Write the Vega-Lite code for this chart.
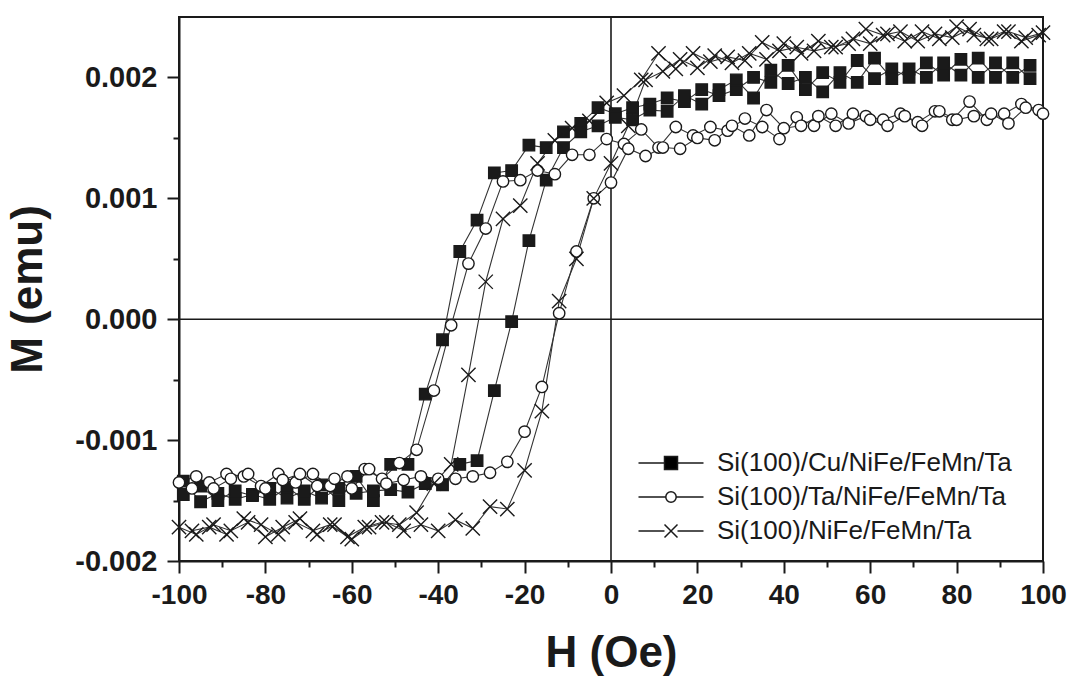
{
"$schema": "https://vega.github.io/schema/vega-lite/v6.json",
"width": 864, "height": 544,
"autosize": {"type": "none"},
"padding": {"left": 179, "top": 17, "right": 24, "bottom": 115},
"background": "white",
"config": {
  "font": "Liberation Sans",
  "view": {"stroke": "#1a1a1a", "strokeWidth": 2},
  "axis": {"grid": false, "domainColor": "#1a1a1a", "domainWidth": 2, "tickColor": "#1a1a1a", "tickWidth": 2, "labelColor": "#1a1a1a", "titleColor": "#1a1a1a", "labelFont": "Liberation Sans", "titleFont": "Liberation Sans"}
},
"data": {"values": [
{"s":"Si(100)/Cu/NiFe/FeMn/Ta","b":"d","h":97,"m":0.0021},
{"s":"Si(100)/Cu/NiFe/FeMn/Ta","b":"d","h":93,"m":0.002},
{"s":"Si(100)/Cu/NiFe/FeMn/Ta","b":"d","h":89,"m":0.00212},
{"s":"Si(100)/Cu/NiFe/FeMn/Ta","b":"d","h":85,"m":0.002},
{"s":"Si(100)/Cu/NiFe/FeMn/Ta","b":"d","h":81,"m":0.00215},
{"s":"Si(100)/Cu/NiFe/FeMn/Ta","b":"d","h":77,"m":0.00202},
{"s":"Si(100)/Cu/NiFe/FeMn/Ta","b":"d","h":73,"m":0.00212},
{"s":"Si(100)/Cu/NiFe/FeMn/Ta","b":"d","h":69,"m":0.002},
{"s":"Si(100)/Cu/NiFe/FeMn/Ta","b":"d","h":65,"m":0.00207},
{"s":"Si(100)/Cu/NiFe/FeMn/Ta","b":"d","h":61,"m":0.00199},
{"s":"Si(100)/Cu/NiFe/FeMn/Ta","b":"d","h":57,"m":0.00214},
{"s":"Si(100)/Cu/NiFe/FeMn/Ta","b":"d","h":53,"m":0.00196},
{"s":"Si(100)/Cu/NiFe/FeMn/Ta","b":"d","h":49,"m":0.00204},
{"s":"Si(100)/Cu/NiFe/FeMn/Ta","b":"d","h":45,"m":0.0019},
{"s":"Si(100)/Cu/NiFe/FeMn/Ta","b":"d","h":41,"m":0.0021},
{"s":"Si(100)/Cu/NiFe/FeMn/Ta","b":"d","h":37,"m":0.00196},
{"s":"Si(100)/Cu/NiFe/FeMn/Ta","b":"d","h":33,"m":0.002},
{"s":"Si(100)/Cu/NiFe/FeMn/Ta","b":"d","h":29,"m":0.0019},
{"s":"Si(100)/Cu/NiFe/FeMn/Ta","b":"d","h":25,"m":0.00185},
{"s":"Si(100)/Cu/NiFe/FeMn/Ta","b":"d","h":21,"m":0.0019},
{"s":"Si(100)/Cu/NiFe/FeMn/Ta","b":"d","h":17,"m":0.0018},
{"s":"Si(100)/Cu/NiFe/FeMn/Ta","b":"d","h":13,"m":0.00183},
{"s":"Si(100)/Cu/NiFe/FeMn/Ta","b":"d","h":9,"m":0.00178},
{"s":"Si(100)/Cu/NiFe/FeMn/Ta","b":"d","h":5,"m":0.00175},
{"s":"Si(100)/Cu/NiFe/FeMn/Ta","b":"d","h":1,"m":0.0017},
{"s":"Si(100)/Cu/NiFe/FeMn/Ta","b":"d","h":-3,"m":0.00175},
{"s":"Si(100)/Cu/NiFe/FeMn/Ta","b":"d","h":-7,"m":0.00162},
{"s":"Si(100)/Cu/NiFe/FeMn/Ta","b":"d","h":-11,"m":0.00155},
{"s":"Si(100)/Cu/NiFe/FeMn/Ta","b":"d","h":-15,"m":0.00142},
{"s":"Si(100)/Cu/NiFe/FeMn/Ta","b":"d","h":-19,"m":0.00144},
{"s":"Si(100)/Cu/NiFe/FeMn/Ta","b":"d","h":-23,"m":0.00123},
{"s":"Si(100)/Cu/NiFe/FeMn/Ta","b":"d","h":-27,"m":0.00121},
{"s":"Si(100)/Cu/NiFe/FeMn/Ta","b":"d","h":-31,"m":0.00082},
{"s":"Si(100)/Cu/NiFe/FeMn/Ta","b":"d","h":-35,"m":0.00056},
{"s":"Si(100)/Cu/NiFe/FeMn/Ta","b":"d","h":-39,"m":-0.00017},
{"s":"Si(100)/Cu/NiFe/FeMn/Ta","b":"d","h":-43,"m":-0.00062},
{"s":"Si(100)/Cu/NiFe/FeMn/Ta","b":"d","h":-47,"m":-0.0012},
{"s":"Si(100)/Cu/NiFe/FeMn/Ta","b":"d","h":-51,"m":-0.0012},
{"s":"Si(100)/Cu/NiFe/FeMn/Ta","b":"d","h":-55,"m":-0.0015},
{"s":"Si(100)/Cu/NiFe/FeMn/Ta","b":"d","h":-59,"m":-0.0013},
{"s":"Si(100)/Cu/NiFe/FeMn/Ta","b":"d","h":-63,"m":-0.0015},
{"s":"Si(100)/Cu/NiFe/FeMn/Ta","b":"d","h":-67,"m":-0.00137},
{"s":"Si(100)/Cu/NiFe/FeMn/Ta","b":"d","h":-71,"m":-0.00149},
{"s":"Si(100)/Cu/NiFe/FeMn/Ta","b":"d","h":-75,"m":-0.00139},
{"s":"Si(100)/Cu/NiFe/FeMn/Ta","b":"d","h":-79,"m":-0.00149},
{"s":"Si(100)/Cu/NiFe/FeMn/Ta","b":"d","h":-83,"m":-0.00145},
{"s":"Si(100)/Cu/NiFe/FeMn/Ta","b":"d","h":-87,"m":-0.00149},
{"s":"Si(100)/Cu/NiFe/FeMn/Ta","b":"d","h":-91,"m":-0.00144},
{"s":"Si(100)/Cu/NiFe/FeMn/Ta","b":"d","h":-95,"m":-0.00151},
{"s":"Si(100)/Cu/NiFe/FeMn/Ta","b":"d","h":-99,"m":-0.00134},
{"s":"Si(100)/Cu/NiFe/FeMn/Ta","b":"a","h":-99,"m":-0.00145},
{"s":"Si(100)/Cu/NiFe/FeMn/Ta","b":"a","h":-95,"m":-0.00138},
{"s":"Si(100)/Cu/NiFe/FeMn/Ta","b":"a","h":-91,"m":-0.0015},
{"s":"Si(100)/Cu/NiFe/FeMn/Ta","b":"a","h":-87,"m":-0.00142},
{"s":"Si(100)/Cu/NiFe/FeMn/Ta","b":"a","h":-83,"m":-0.00146},
{"s":"Si(100)/Cu/NiFe/FeMn/Ta","b":"a","h":-79,"m":-0.0014},
{"s":"Si(100)/Cu/NiFe/FeMn/Ta","b":"a","h":-75,"m":-0.00148},
{"s":"Si(100)/Cu/NiFe/FeMn/Ta","b":"a","h":-71,"m":-0.00142},
{"s":"Si(100)/Cu/NiFe/FeMn/Ta","b":"a","h":-67,"m":-0.00148},
{"s":"Si(100)/Cu/NiFe/FeMn/Ta","b":"a","h":-63,"m":-0.0014},
{"s":"Si(100)/Cu/NiFe/FeMn/Ta","b":"a","h":-59,"m":-0.00144},
{"s":"Si(100)/Cu/NiFe/FeMn/Ta","b":"a","h":-55,"m":-0.00142},
{"s":"Si(100)/Cu/NiFe/FeMn/Ta","b":"a","h":-51,"m":-0.00141},
{"s":"Si(100)/Cu/NiFe/FeMn/Ta","b":"a","h":-47,"m":-0.00143},
{"s":"Si(100)/Cu/NiFe/FeMn/Ta","b":"a","h":-43,"m":-0.00136},
{"s":"Si(100)/Cu/NiFe/FeMn/Ta","b":"a","h":-39,"m":-0.00137},
{"s":"Si(100)/Cu/NiFe/FeMn/Ta","b":"a","h":-35,"m":-0.0012},
{"s":"Si(100)/Cu/NiFe/FeMn/Ta","b":"a","h":-31,"m":-0.00117},
{"s":"Si(100)/Cu/NiFe/FeMn/Ta","b":"a","h":-27,"m":-0.00059},
{"s":"Si(100)/Cu/NiFe/FeMn/Ta","b":"a","h":-23,"m":-0.00002},
{"s":"Si(100)/Cu/NiFe/FeMn/Ta","b":"a","h":-19,"m":0.00065},
{"s":"Si(100)/Cu/NiFe/FeMn/Ta","b":"a","h":-15,"m":0.00115},
{"s":"Si(100)/Cu/NiFe/FeMn/Ta","b":"a","h":-11,"m":0.00142},
{"s":"Si(100)/Cu/NiFe/FeMn/Ta","b":"a","h":-7,"m":0.00155},
{"s":"Si(100)/Cu/NiFe/FeMn/Ta","b":"a","h":-3,"m":0.0016},
{"s":"Si(100)/Cu/NiFe/FeMn/Ta","b":"a","h":1,"m":0.00167},
{"s":"Si(100)/Cu/NiFe/FeMn/Ta","b":"a","h":5,"m":0.00165},
{"s":"Si(100)/Cu/NiFe/FeMn/Ta","b":"a","h":9,"m":0.00173},
{"s":"Si(100)/Cu/NiFe/FeMn/Ta","b":"a","h":13,"m":0.00172},
{"s":"Si(100)/Cu/NiFe/FeMn/Ta","b":"a","h":17,"m":0.00185},
{"s":"Si(100)/Cu/NiFe/FeMn/Ta","b":"a","h":21,"m":0.00178},
{"s":"Si(100)/Cu/NiFe/FeMn/Ta","b":"a","h":25,"m":0.0019},
{"s":"Si(100)/Cu/NiFe/FeMn/Ta","b":"a","h":29,"m":0.00198},
{"s":"Si(100)/Cu/NiFe/FeMn/Ta","b":"a","h":33,"m":0.00183},
{"s":"Si(100)/Cu/NiFe/FeMn/Ta","b":"a","h":37,"m":0.00206},
{"s":"Si(100)/Cu/NiFe/FeMn/Ta","b":"a","h":41,"m":0.00195},
{"s":"Si(100)/Cu/NiFe/FeMn/Ta","b":"a","h":45,"m":0.002},
{"s":"Si(100)/Cu/NiFe/FeMn/Ta","b":"a","h":49,"m":0.00188},
{"s":"Si(100)/Cu/NiFe/FeMn/Ta","b":"a","h":53,"m":0.00204},
{"s":"Si(100)/Cu/NiFe/FeMn/Ta","b":"a","h":57,"m":0.00196},
{"s":"Si(100)/Cu/NiFe/FeMn/Ta","b":"a","h":61,"m":0.00216},
{"s":"Si(100)/Cu/NiFe/FeMn/Ta","b":"a","h":65,"m":0.00199},
{"s":"Si(100)/Cu/NiFe/FeMn/Ta","b":"a","h":69,"m":0.00207},
{"s":"Si(100)/Cu/NiFe/FeMn/Ta","b":"a","h":73,"m":0.002},
{"s":"Si(100)/Cu/NiFe/FeMn/Ta","b":"a","h":77,"m":0.00212},
{"s":"Si(100)/Cu/NiFe/FeMn/Ta","b":"a","h":81,"m":0.00202},
{"s":"Si(100)/Cu/NiFe/FeMn/Ta","b":"a","h":85,"m":0.00216},
{"s":"Si(100)/Cu/NiFe/FeMn/Ta","b":"a","h":89,"m":0.002},
{"s":"Si(100)/Cu/NiFe/FeMn/Ta","b":"a","h":93,"m":0.00212},
{"s":"Si(100)/Cu/NiFe/FeMn/Ta","b":"a","h":97,"m":0.00199},
{"s":"Si(100)/Ta/NiFe/FeMn/Ta","b":"d","h":99,"m":0.00173},
{"s":"Si(100)/Ta/NiFe/FeMn/Ta","b":"d","h":95,"m":0.00178},
{"s":"Si(100)/Ta/NiFe/FeMn/Ta","b":"d","h":91,"m":0.0017},
{"s":"Si(100)/Ta/NiFe/FeMn/Ta","b":"d","h":87,"m":0.00165},
{"s":"Si(100)/Ta/NiFe/FeMn/Ta","b":"d","h":83,"m":0.0018},
{"s":"Si(100)/Ta/NiFe/FeMn/Ta","b":"d","h":79,"m":0.00165},
{"s":"Si(100)/Ta/NiFe/FeMn/Ta","b":"d","h":75,"m":0.00172},
{"s":"Si(100)/Ta/NiFe/FeMn/Ta","b":"d","h":71,"m":0.00163},
{"s":"Si(100)/Ta/NiFe/FeMn/Ta","b":"d","h":67,"m":0.0017},
{"s":"Si(100)/Ta/NiFe/FeMn/Ta","b":"d","h":63,"m":0.00165},
{"s":"Si(100)/Ta/NiFe/FeMn/Ta","b":"d","h":59,"m":0.00168},
{"s":"Si(100)/Ta/NiFe/FeMn/Ta","b":"d","h":55,"m":0.00162},
{"s":"Si(100)/Ta/NiFe/FeMn/Ta","b":"d","h":51,"m":0.0017},
{"s":"Si(100)/Ta/NiFe/FeMn/Ta","b":"d","h":47,"m":0.0016},
{"s":"Si(100)/Ta/NiFe/FeMn/Ta","b":"d","h":43,"m":0.00167},
{"s":"Si(100)/Ta/NiFe/FeMn/Ta","b":"d","h":39,"m":0.00149},
{"s":"Si(100)/Ta/NiFe/FeMn/Ta","b":"d","h":35,"m":0.00159},
{"s":"Si(100)/Ta/NiFe/FeMn/Ta","b":"d","h":31,"m":0.00166},
{"s":"Si(100)/Ta/NiFe/FeMn/Ta","b":"d","h":27,"m":0.00156},
{"s":"Si(100)/Ta/NiFe/FeMn/Ta","b":"d","h":23,"m":0.00159},
{"s":"Si(100)/Ta/NiFe/FeMn/Ta","b":"d","h":19,"m":0.00152},
{"s":"Si(100)/Ta/NiFe/FeMn/Ta","b":"d","h":15,"m":0.00159},
{"s":"Si(100)/Ta/NiFe/FeMn/Ta","b":"d","h":11,"m":0.00142},
{"s":"Si(100)/Ta/NiFe/FeMn/Ta","b":"d","h":7,"m":0.00157},
{"s":"Si(100)/Ta/NiFe/FeMn/Ta","b":"d","h":3,"m":0.00145},
{"s":"Si(100)/Ta/NiFe/FeMn/Ta","b":"d","h":-1,"m":0.00149},
{"s":"Si(100)/Ta/NiFe/FeMn/Ta","b":"d","h":-5,"m":0.00136},
{"s":"Si(100)/Ta/NiFe/FeMn/Ta","b":"d","h":-9,"m":0.00136},
{"s":"Si(100)/Ta/NiFe/FeMn/Ta","b":"d","h":-13,"m":0.0012},
{"s":"Si(100)/Ta/NiFe/FeMn/Ta","b":"d","h":-17,"m":0.00123},
{"s":"Si(100)/Ta/NiFe/FeMn/Ta","b":"d","h":-21,"m":0.00115},
{"s":"Si(100)/Ta/NiFe/FeMn/Ta","b":"d","h":-25,"m":0.00114},
{"s":"Si(100)/Ta/NiFe/FeMn/Ta","b":"d","h":-29,"m":0.00075},
{"s":"Si(100)/Ta/NiFe/FeMn/Ta","b":"d","h":-33,"m":0.00046},
{"s":"Si(100)/Ta/NiFe/FeMn/Ta","b":"d","h":-37,"m":-0.00005},
{"s":"Si(100)/Ta/NiFe/FeMn/Ta","b":"d","h":-41,"m":-0.00059},
{"s":"Si(100)/Ta/NiFe/FeMn/Ta","b":"d","h":-45,"m":-0.00108},
{"s":"Si(100)/Ta/NiFe/FeMn/Ta","b":"d","h":-49,"m":-0.00119},
{"s":"Si(100)/Ta/NiFe/FeMn/Ta","b":"d","h":-53,"m":-0.00132},
{"s":"Si(100)/Ta/NiFe/FeMn/Ta","b":"d","h":-57,"m":-0.00124},
{"s":"Si(100)/Ta/NiFe/FeMn/Ta","b":"d","h":-61,"m":-0.0013},
{"s":"Si(100)/Ta/NiFe/FeMn/Ta","b":"d","h":-65,"m":-0.00138},
{"s":"Si(100)/Ta/NiFe/FeMn/Ta","b":"d","h":-69,"m":-0.00128},
{"s":"Si(100)/Ta/NiFe/FeMn/Ta","b":"d","h":-73,"m":-0.00135},
{"s":"Si(100)/Ta/NiFe/FeMn/Ta","b":"d","h":-77,"m":-0.00128},
{"s":"Si(100)/Ta/NiFe/FeMn/Ta","b":"d","h":-81,"m":-0.00138},
{"s":"Si(100)/Ta/NiFe/FeMn/Ta","b":"d","h":-85,"m":-0.0013},
{"s":"Si(100)/Ta/NiFe/FeMn/Ta","b":"d","h":-89,"m":-0.00128},
{"s":"Si(100)/Ta/NiFe/FeMn/Ta","b":"d","h":-93,"m":-0.00135},
{"s":"Si(100)/Ta/NiFe/FeMn/Ta","b":"d","h":-97,"m":-0.0014},
{"s":"Si(100)/Ta/NiFe/FeMn/Ta","b":"a","h":-100,"m":-0.00135},
{"s":"Si(100)/Ta/NiFe/FeMn/Ta","b":"a","h":-96,"m":-0.0013},
{"s":"Si(100)/Ta/NiFe/FeMn/Ta","b":"a","h":-92,"m":-0.0014},
{"s":"Si(100)/Ta/NiFe/FeMn/Ta","b":"a","h":-88,"m":-0.00132},
{"s":"Si(100)/Ta/NiFe/FeMn/Ta","b":"a","h":-84,"m":-0.00128},
{"s":"Si(100)/Ta/NiFe/FeMn/Ta","b":"a","h":-80,"m":-0.0014},
{"s":"Si(100)/Ta/NiFe/FeMn/Ta","b":"a","h":-76,"m":-0.00133},
{"s":"Si(100)/Ta/NiFe/FeMn/Ta","b":"a","h":-72,"m":-0.00128},
{"s":"Si(100)/Ta/NiFe/FeMn/Ta","b":"a","h":-68,"m":-0.00138},
{"s":"Si(100)/Ta/NiFe/FeMn/Ta","b":"a","h":-64,"m":-0.00132},
{"s":"Si(100)/Ta/NiFe/FeMn/Ta","b":"a","h":-60,"m":-0.0014},
{"s":"Si(100)/Ta/NiFe/FeMn/Ta","b":"a","h":-56,"m":-0.00124},
{"s":"Si(100)/Ta/NiFe/FeMn/Ta","b":"a","h":-52,"m":-0.00136},
{"s":"Si(100)/Ta/NiFe/FeMn/Ta","b":"a","h":-48,"m":-0.00133},
{"s":"Si(100)/Ta/NiFe/FeMn/Ta","b":"a","h":-44,"m":-0.0013},
{"s":"Si(100)/Ta/NiFe/FeMn/Ta","b":"a","h":-40,"m":-0.00132},
{"s":"Si(100)/Ta/NiFe/FeMn/Ta","b":"a","h":-36,"m":-0.00132},
{"s":"Si(100)/Ta/NiFe/FeMn/Ta","b":"a","h":-32,"m":-0.0013},
{"s":"Si(100)/Ta/NiFe/FeMn/Ta","b":"a","h":-28,"m":-0.00127},
{"s":"Si(100)/Ta/NiFe/FeMn/Ta","b":"a","h":-24,"m":-0.00118},
{"s":"Si(100)/Ta/NiFe/FeMn/Ta","b":"a","h":-20,"m":-0.00093},
{"s":"Si(100)/Ta/NiFe/FeMn/Ta","b":"a","h":-16,"m":-0.00056},
{"s":"Si(100)/Ta/NiFe/FeMn/Ta","b":"a","h":-12,"m":0.00005},
{"s":"Si(100)/Ta/NiFe/FeMn/Ta","b":"a","h":-8,"m":0.00056},
{"s":"Si(100)/Ta/NiFe/FeMn/Ta","b":"a","h":-4,"m":0.001},
{"s":"Si(100)/Ta/NiFe/FeMn/Ta","b":"a","h":0,"m":0.00113},
{"s":"Si(100)/Ta/NiFe/FeMn/Ta","b":"a","h":4,"m":0.00141},
{"s":"Si(100)/Ta/NiFe/FeMn/Ta","b":"a","h":8,"m":0.00135},
{"s":"Si(100)/Ta/NiFe/FeMn/Ta","b":"a","h":12,"m":0.00142},
{"s":"Si(100)/Ta/NiFe/FeMn/Ta","b":"a","h":16,"m":0.00141},
{"s":"Si(100)/Ta/NiFe/FeMn/Ta","b":"a","h":20,"m":0.0015},
{"s":"Si(100)/Ta/NiFe/FeMn/Ta","b":"a","h":24,"m":0.00148},
{"s":"Si(100)/Ta/NiFe/FeMn/Ta","b":"a","h":28,"m":0.0016},
{"s":"Si(100)/Ta/NiFe/FeMn/Ta","b":"a","h":32,"m":0.00152},
{"s":"Si(100)/Ta/NiFe/FeMn/Ta","b":"a","h":36,"m":0.00173},
{"s":"Si(100)/Ta/NiFe/FeMn/Ta","b":"a","h":40,"m":0.00158},
{"s":"Si(100)/Ta/NiFe/FeMn/Ta","b":"a","h":44,"m":0.0016},
{"s":"Si(100)/Ta/NiFe/FeMn/Ta","b":"a","h":48,"m":0.00168},
{"s":"Si(100)/Ta/NiFe/FeMn/Ta","b":"a","h":52,"m":0.0016},
{"s":"Si(100)/Ta/NiFe/FeMn/Ta","b":"a","h":56,"m":0.0017},
{"s":"Si(100)/Ta/NiFe/FeMn/Ta","b":"a","h":60,"m":0.00165},
{"s":"Si(100)/Ta/NiFe/FeMn/Ta","b":"a","h":64,"m":0.0016},
{"s":"Si(100)/Ta/NiFe/FeMn/Ta","b":"a","h":68,"m":0.00168},
{"s":"Si(100)/Ta/NiFe/FeMn/Ta","b":"a","h":72,"m":0.0016},
{"s":"Si(100)/Ta/NiFe/FeMn/Ta","b":"a","h":76,"m":0.00172},
{"s":"Si(100)/Ta/NiFe/FeMn/Ta","b":"a","h":80,"m":0.00165},
{"s":"Si(100)/Ta/NiFe/FeMn/Ta","b":"a","h":84,"m":0.00168},
{"s":"Si(100)/Ta/NiFe/FeMn/Ta","b":"a","h":88,"m":0.0017},
{"s":"Si(100)/Ta/NiFe/FeMn/Ta","b":"a","h":92,"m":0.00162},
{"s":"Si(100)/Ta/NiFe/FeMn/Ta","b":"a","h":96,"m":0.00175},
{"s":"Si(100)/Ta/NiFe/FeMn/Ta","b":"a","h":100,"m":0.0017},
{"s":"Si(100)/NiFe/FeMn/Ta","b":"d","h":99,"m":0.00235},
{"s":"Si(100)/NiFe/FeMn/Ta","b":"d","h":95,"m":0.0023},
{"s":"Si(100)/NiFe/FeMn/Ta","b":"d","h":91,"m":0.00238},
{"s":"Si(100)/NiFe/FeMn/Ta","b":"d","h":87,"m":0.00232},
{"s":"Si(100)/NiFe/FeMn/Ta","b":"d","h":83,"m":0.0024},
{"s":"Si(100)/NiFe/FeMn/Ta","b":"d","h":79,"m":0.00233},
{"s":"Si(100)/NiFe/FeMn/Ta","b":"d","h":75,"m":0.00236},
{"s":"Si(100)/NiFe/FeMn/Ta","b":"d","h":71,"m":0.0023},
{"s":"Si(100)/NiFe/FeMn/Ta","b":"d","h":67,"m":0.00238},
{"s":"Si(100)/NiFe/FeMn/Ta","b":"d","h":63,"m":0.00235},
{"s":"Si(100)/NiFe/FeMn/Ta","b":"d","h":59,"m":0.0024},
{"s":"Si(100)/NiFe/FeMn/Ta","b":"d","h":55,"m":0.00228},
{"s":"Si(100)/NiFe/FeMn/Ta","b":"d","h":51,"m":0.00225},
{"s":"Si(100)/NiFe/FeMn/Ta","b":"d","h":47,"m":0.00222},
{"s":"Si(100)/NiFe/FeMn/Ta","b":"d","h":43,"m":0.00225},
{"s":"Si(100)/NiFe/FeMn/Ta","b":"d","h":39,"m":0.00222},
{"s":"Si(100)/NiFe/FeMn/Ta","b":"d","h":35,"m":0.00229},
{"s":"Si(100)/NiFe/FeMn/Ta","b":"d","h":31,"m":0.00214},
{"s":"Si(100)/NiFe/FeMn/Ta","b":"d","h":27,"m":0.00217},
{"s":"Si(100)/NiFe/FeMn/Ta","b":"d","h":23,"m":0.00213},
{"s":"Si(100)/NiFe/FeMn/Ta","b":"d","h":19,"m":0.0022},
{"s":"Si(100)/NiFe/FeMn/Ta","b":"d","h":15,"m":0.00207},
{"s":"Si(100)/NiFe/FeMn/Ta","b":"d","h":11,"m":0.0022},
{"s":"Si(100)/NiFe/FeMn/Ta","b":"d","h":7,"m":0.00198},
{"s":"Si(100)/NiFe/FeMn/Ta","b":"d","h":3,"m":0.00185},
{"s":"Si(100)/NiFe/FeMn/Ta","b":"d","h":-1,"m":0.00179},
{"s":"Si(100)/NiFe/FeMn/Ta","b":"d","h":-5,"m":0.00164},
{"s":"Si(100)/NiFe/FeMn/Ta","b":"d","h":-9,"m":0.00158},
{"s":"Si(100)/NiFe/FeMn/Ta","b":"d","h":-13,"m":0.00148},
{"s":"Si(100)/NiFe/FeMn/Ta","b":"d","h":-17,"m":0.00129},
{"s":"Si(100)/NiFe/FeMn/Ta","b":"d","h":-21,"m":0.00094},
{"s":"Si(100)/NiFe/FeMn/Ta","b":"d","h":-25,"m":0.00083},
{"s":"Si(100)/NiFe/FeMn/Ta","b":"d","h":-29,"m":0.00031},
{"s":"Si(100)/NiFe/FeMn/Ta","b":"d","h":-33,"m":-0.00046},
{"s":"Si(100)/NiFe/FeMn/Ta","b":"d","h":-37,"m":-0.0012},
{"s":"Si(100)/NiFe/FeMn/Ta","b":"d","h":-41,"m":-0.00136},
{"s":"Si(100)/NiFe/FeMn/Ta","b":"d","h":-45,"m":-0.0016},
{"s":"Si(100)/NiFe/FeMn/Ta","b":"d","h":-49,"m":-0.0017},
{"s":"Si(100)/NiFe/FeMn/Ta","b":"d","h":-53,"m":-0.00168},
{"s":"Si(100)/NiFe/FeMn/Ta","b":"d","h":-57,"m":-0.00172},
{"s":"Si(100)/NiFe/FeMn/Ta","b":"d","h":-61,"m":-0.0018},
{"s":"Si(100)/NiFe/FeMn/Ta","b":"d","h":-65,"m":-0.0017},
{"s":"Si(100)/NiFe/FeMn/Ta","b":"d","h":-69,"m":-0.00175},
{"s":"Si(100)/NiFe/FeMn/Ta","b":"d","h":-73,"m":-0.00168},
{"s":"Si(100)/NiFe/FeMn/Ta","b":"d","h":-77,"m":-0.00178},
{"s":"Si(100)/NiFe/FeMn/Ta","b":"d","h":-81,"m":-0.0017},
{"s":"Si(100)/NiFe/FeMn/Ta","b":"d","h":-85,"m":-0.00165},
{"s":"Si(100)/NiFe/FeMn/Ta","b":"d","h":-89,"m":-0.00178},
{"s":"Si(100)/NiFe/FeMn/Ta","b":"d","h":-93,"m":-0.00172},
{"s":"Si(100)/NiFe/FeMn/Ta","b":"d","h":-97,"m":-0.00175},
{"s":"Si(100)/NiFe/FeMn/Ta","b":"a","h":-100,"m":-0.00172},
{"s":"Si(100)/NiFe/FeMn/Ta","b":"a","h":-96,"m":-0.00178},
{"s":"Si(100)/NiFe/FeMn/Ta","b":"a","h":-92,"m":-0.0017},
{"s":"Si(100)/NiFe/FeMn/Ta","b":"a","h":-88,"m":-0.00175},
{"s":"Si(100)/NiFe/FeMn/Ta","b":"a","h":-84,"m":-0.00168},
{"s":"Si(100)/NiFe/FeMn/Ta","b":"a","h":-80,"m":-0.0018},
{"s":"Si(100)/NiFe/FeMn/Ta","b":"a","h":-76,"m":-0.00172},
{"s":"Si(100)/NiFe/FeMn/Ta","b":"a","h":-72,"m":-0.00165},
{"s":"Si(100)/NiFe/FeMn/Ta","b":"a","h":-68,"m":-0.00178},
{"s":"Si(100)/NiFe/FeMn/Ta","b":"a","h":-64,"m":-0.0017},
{"s":"Si(100)/NiFe/FeMn/Ta","b":"a","h":-60,"m":-0.00182},
{"s":"Si(100)/NiFe/FeMn/Ta","b":"a","h":-56,"m":-0.00172},
{"s":"Si(100)/NiFe/FeMn/Ta","b":"a","h":-52,"m":-0.00168},
{"s":"Si(100)/NiFe/FeMn/Ta","b":"a","h":-48,"m":-0.00175},
{"s":"Si(100)/NiFe/FeMn/Ta","b":"a","h":-44,"m":-0.0017},
{"s":"Si(100)/NiFe/FeMn/Ta","b":"a","h":-40,"m":-0.00175},
{"s":"Si(100)/NiFe/FeMn/Ta","b":"a","h":-36,"m":-0.00166},
{"s":"Si(100)/NiFe/FeMn/Ta","b":"a","h":-32,"m":-0.00173},
{"s":"Si(100)/NiFe/FeMn/Ta","b":"a","h":-28,"m":-0.00155},
{"s":"Si(100)/NiFe/FeMn/Ta","b":"a","h":-24,"m":-0.00157},
{"s":"Si(100)/NiFe/FeMn/Ta","b":"a","h":-20,"m":-0.00125},
{"s":"Si(100)/NiFe/FeMn/Ta","b":"a","h":-16,"m":-0.00076},
{"s":"Si(100)/NiFe/FeMn/Ta","b":"a","h":-12,"m":0.00015},
{"s":"Si(100)/NiFe/FeMn/Ta","b":"a","h":-8,"m":0.0005},
{"s":"Si(100)/NiFe/FeMn/Ta","b":"a","h":-4,"m":0.001},
{"s":"Si(100)/NiFe/FeMn/Ta","b":"a","h":0,"m":0.00129},
{"s":"Si(100)/NiFe/FeMn/Ta","b":"a","h":4,"m":0.0016},
{"s":"Si(100)/NiFe/FeMn/Ta","b":"a","h":8,"m":0.00198},
{"s":"Si(100)/NiFe/FeMn/Ta","b":"a","h":12,"m":0.00205},
{"s":"Si(100)/NiFe/FeMn/Ta","b":"a","h":16,"m":0.00215},
{"s":"Si(100)/NiFe/FeMn/Ta","b":"a","h":20,"m":0.00208},
{"s":"Si(100)/NiFe/FeMn/Ta","b":"a","h":24,"m":0.00218},
{"s":"Si(100)/NiFe/FeMn/Ta","b":"a","h":28,"m":0.00212},
{"s":"Si(100)/NiFe/FeMn/Ta","b":"a","h":32,"m":0.0022},
{"s":"Si(100)/NiFe/FeMn/Ta","b":"a","h":36,"m":0.00215},
{"s":"Si(100)/NiFe/FeMn/Ta","b":"a","h":40,"m":0.00228},
{"s":"Si(100)/NiFe/FeMn/Ta","b":"a","h":44,"m":0.0022},
{"s":"Si(100)/NiFe/FeMn/Ta","b":"a","h":48,"m":0.0023},
{"s":"Si(100)/NiFe/FeMn/Ta","b":"a","h":52,"m":0.00225},
{"s":"Si(100)/NiFe/FeMn/Ta","b":"a","h":56,"m":0.00232},
{"s":"Si(100)/NiFe/FeMn/Ta","b":"a","h":60,"m":0.00228},
{"s":"Si(100)/NiFe/FeMn/Ta","b":"a","h":64,"m":0.00236},
{"s":"Si(100)/NiFe/FeMn/Ta","b":"a","h":68,"m":0.0023},
{"s":"Si(100)/NiFe/FeMn/Ta","b":"a","h":72,"m":0.00238},
{"s":"Si(100)/NiFe/FeMn/Ta","b":"a","h":76,"m":0.00232},
{"s":"Si(100)/NiFe/FeMn/Ta","b":"a","h":80,"m":0.00242},
{"s":"Si(100)/NiFe/FeMn/Ta","b":"a","h":84,"m":0.00235},
{"s":"Si(100)/NiFe/FeMn/Ta","b":"a","h":88,"m":0.00232},
{"s":"Si(100)/NiFe/FeMn/Ta","b":"a","h":92,"m":0.00238},
{"s":"Si(100)/NiFe/FeMn/Ta","b":"a","h":96,"m":0.00233},
{"s":"Si(100)/NiFe/FeMn/Ta","b":"a","h":100,"m":0.00237}
]},
"layer": [
  {
    "data": {"values": [{"z": 0}]},
    "mark": {"type": "rule", "color": "#1a1a1a", "strokeWidth": 1.6},
    "encoding": {
      "x": {"field": "z", "type": "quantitative", "scale": {"domain": [-100, 100], "nice": false, "zero": false},
        "axis": {"orient": "bottom", "values": [-90, -70, -50, -30, -10, 10, 30, 50, 70, 90], "tickSize": 6, "labels": false, "domain": false, "title": null}}
    }
  },
  {
    "data": {"values": [{"z": 0}]},
    "mark": {"type": "rule", "color": "#1a1a1a", "strokeWidth": 1.6},
    "encoding": {
      "y": {"field": "z", "type": "quantitative", "scale": {"domain": [-0.002, 0.0025], "nice": false, "zero": false},
        "axis": {"orient": "left", "values": [-0.0015, -0.0005, 0.0005, 0.0015], "tickSize": 6, "labels": false, "domain": false, "title": null}}
    }
  },
  {
    "mark": {"type": "line", "color": "#333333", "strokeWidth": 1.1},
    "encoding": {
      "x": {"field": "h", "type": "quantitative",
        "axis": {"orient": "bottom", "values": [-100, -80, -60, -40, -20, 0, 20, 40, 60, 80, 100], "tickSize": 12, "labelFontSize": 28, "labelFontWeight": "bold", "labelPadding": 8, "labelFlush": false, "labelOverlap": false, "labelExpr": "replace(datum.label, '\u2212', '-')", "title": "H (Oe)", "titleFontSize": 44, "titleFontWeight": "bold", "titlePadding": 22}},
      "y": {"field": "m", "type": "quantitative",
        "axis": {"orient": "left", "values": [-0.002, -0.001, 0, 0.001, 0.002], "tickSize": 12, "labelFontSize": 29, "labelFontWeight": "bold", "labelPadding": 10, "labelFlush": false, "labelOverlap": false, "format": ".3f", "labelExpr": "replace(datum.label, '\u2212', '-')", "title": "M (emu)", "titleFontSize": 44, "titleFontWeight": "bold", "titlePadding": 24}},
      "detail": [{"field": "s"}, {"field": "b"}]
    }
  },
  {
    "mark": {"type": "point", "opacity": 1, "size": 130, "stroke": "#1a1a1a", "strokeWidth": 1.4},
    "encoding": {
      "x": {"field": "h", "type": "quantitative", "axis": null},
      "y": {"field": "m", "type": "quantitative", "axis": null},
      "fill": {"field": "s", "type": "nominal", "scale": {"domain": ["Si(100)/Cu/NiFe/FeMn/Ta", "Si(100)/Ta/NiFe/FeMn/Ta", "Si(100)/NiFe/FeMn/Ta"], "range": ["#1a1a1a", "#ffffff", "transparent"]}, "legend": null},
      "shape": {"field": "s", "type": "nominal",
        "scale": {"domain": ["Si(100)/Cu/NiFe/FeMn/Ta", "Si(100)/Ta/NiFe/FeMn/Ta", "Si(100)/NiFe/FeMn/Ta"], "range": ["square", "circle", "M-1.25,-1.25L1.25,1.25M1.25,-1.25L-1.25,1.25"]},
        "legend": null}
    }
  },
  {
    "mark": {"type": "point", "opacity": 0, "size": 169, "stroke": "#1a1a1a", "strokeWidth": 1.5},
    "encoding": {
      "x": {"field": "h", "type": "quantitative", "axis": null},
      "y": {"field": "m", "type": "quantitative", "axis": null},
      "fill": {"field": "s", "type": "nominal", "scale": {"domain": ["Si(100)/Cu/NiFe/FeMn/Ta", "Si(100)/Ta/NiFe/FeMn/Ta", "Si(100)/NiFe/FeMn/Ta"], "range": ["#1a1a1a", "#ffffff", "transparent"]}, "legend": null},
      "shape": {"field": "s", "type": "nominal",
        "scale": {"domain": ["Si(100)/Cu/NiFe/FeMn/Ta", "Si(100)/Ta/NiFe/FeMn/Ta", "Si(100)/NiFe/FeMn/Ta"],
          "range": ["M-5,0H-1M1,0H5M-1,-1H1V1H-1Z", "M-5,0H-0.8M0.8,0H5M-0.8,0A0.8,0.8,0,1,0,0.8,0A0.8,0.8,0,1,0,-0.8,0ZM-0.8,0A0.8,0.8,0,1,1,0.8,0A0.8,0.8,0,1,1,-0.8,0Z", "M-5,0H-1M1,0H5M-1,-1L1,1M1,-1L-1,1"]},
        "legend": {
          "orient": "none", "legendX": 479, "legendY": 433, "title": null, "padding": 0,
          "labelFont": "Liberation Sans", "labelFontSize": 26, "labelColor": "#1a1a1a", "labelLimit": 600,
          "symbolSize": 169, "symbolOpacity": 1, "labelOffset": 33, "rowPadding": 8,
          "encode": {"symbols": {
            "stroke": {"value": "#1a1a1a"},
            "strokeWidth": {"value": 1.5},
            "opacity": {"value": 1}
          }}
        }
      }
    }
  }
],
"resolve": {"axis": {"x": "independent", "y": "independent"}, "scale": {"shape": "independent"}}
}
